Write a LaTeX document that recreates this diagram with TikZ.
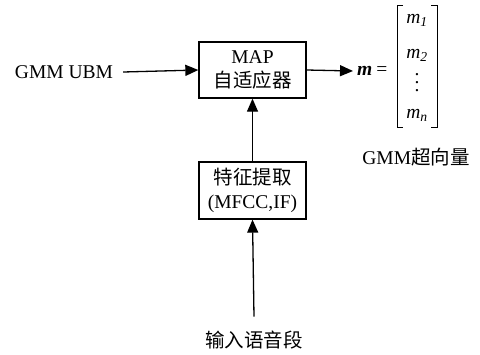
\RequirePackage{fix-cm}
\documentclass[tikz,border=0pt]{standalone}
\usepackage{amsmath}
\usepackage{fontspec}
\setmainfont{Liberation Serif}
\newfontfamily\cjk{Noto Sans CJK SC}
\usetikzlibrary{arrows.meta}
\tikzset{ proc_box/.style = {rectangle, draw, line width=1.3pt, minimum width=107pt, minimum height=56pt, align=center, inner sep=2pt} }
\tikzset{ flow/.style = {line width=1.3pt, -{Triangle[length=13pt,width=11pt]}} }
\tikzset{ vec_entry/.style = {inner sep=0pt} }
\tikzset{ every node/.style = {font=\fontsize{19.5}{24}\selectfont} }
\newcommand{\vecm}[1]{\textit{m}\textsubscript{\textit{#1}}}

\begin{document}
\begin{tikzpicture}[x=1pt,y=-1pt]
\useasboundingbox (0,0) rectangle (480,354);
\node[proc_box] (map) at (252.5,70) {MAP\\{\cjk 自适应器}};
\node[proc_box, minimum height=57pt] (feat) at (252.5,190.5) {{\cjk 特征提取}\\(MFCC,IF)};
\node[inner sep=0pt] (ubm) at (64,72) {GMM UBM};
\node[inner sep=0pt] (inp) at (254,340) {\cjk 输入语音段};
\node[inner sep=0pt, inner xsep=4pt, anchor=west] (meq) at (353,71) {\textbf{\textit{m}}\hspace{4pt}=};
\node[vec_entry] (m1) at (417,20) {\vecm{1}};
\node[vec_entry] (m2) at (417,55) {\vecm{2}};
\node[vec_entry, align=center, font=\fontsize{19.5}{8}\selectfont] (mdots) at (417,83) {.\\.\\.};
\node[vec_entry] (mn) at (417,115) {\vecm{n}};
\node[inner sep=0pt] (sv) at (416,157) {GMM{\cjk 超向量}};
% brackets
\draw[line width=0.8pt] (403,5) -- (397,5) -- (397,127) -- (403,127);
\draw[line width=0.8pt] (431,5) -- (437,5) -- (437,127) -- (431,127);
% arrows
\draw[flow] (ubm.east) ++(10,0) -- (map.west);
\draw[flow] (map.east) -- (meq.west);
\draw[flow] (feat.north) -- (map.south);
\draw[flow] (inp.north) ++(0,-14) -- (feat.south);
\end{tikzpicture}
\end{document}
